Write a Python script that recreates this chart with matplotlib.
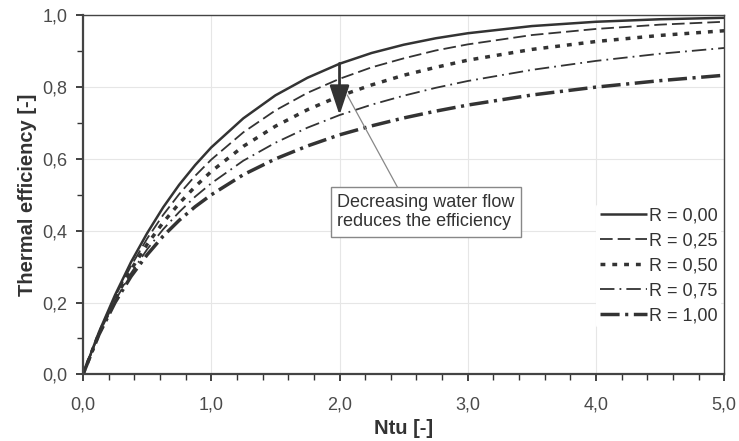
import matplotlib
matplotlib.use("Agg")
import matplotlib.pyplot as plt
from matplotlib.ticker import MultipleLocator, FuncFormatter

plt.rcParams['font.family'] = ['Liberation Sans', 'DejaVu Sans']

ntu = [0.0, 0.125, 0.25, 0.375, 0.5, 0.625, 0.75, 0.875, 1.0, 1.25, 1.5, 1.75, 2.0, 2.25, 2.5, 2.75,
       3.0, 3.5, 4.0, 4.5, 5.0]
eff_r000 = [0.0, 0.118, 0.221, 0.313, 0.393, 0.465, 0.528, 0.583, 0.632, 0.713, 0.777, 0.826, 0.865,
            0.895, 0.918, 0.936, 0.950, 0.970, 0.982, 0.989, 0.993]
eff_r025 = [0.0, 0.116, 0.216, 0.302, 0.378, 0.444, 0.502, 0.553, 0.598, 0.674, 0.735, 0.784, 0.823,
            0.855, 0.880, 0.902, 0.919, 0.945, 0.962, 0.974, 0.982]
eff_r050 = [0.0, 0.114, 0.210, 0.292, 0.362, 0.423, 0.476, 0.523, 0.565, 0.635, 0.691, 0.737, 0.775,
            0.806, 0.833, 0.855, 0.875, 0.905, 0.927, 0.944, 0.957]
eff_r075 = [0.0, 0.113, 0.205, 0.282, 0.348, 0.404, 0.452, 0.495, 0.532, 0.595, 0.645, 0.687, 0.722,
            0.751, 0.776, 0.798, 0.817, 0.848, 0.873, 0.893, 0.909]
eff_r100 = [0.0, 0.111, 0.200, 0.273, 0.333, 0.385, 0.429, 0.467, 0.500, 0.556, 0.600, 0.636, 0.667,
            0.692, 0.714, 0.733, 0.750, 0.778, 0.800, 0.818, 0.833]
labels = ['R = 0,00', 'R = 0,25', 'R = 0,50', 'R = 0,75', 'R = 1,00']
annot_text = 'Decreasing water flow\nreduces the efficiency'

C = '#333333'
fig = plt.figure(figsize=(7.39, 4.41), dpi=100)
ax = fig.add_axes([83/739, 1-374.3/441, (724.3-83)/739, (374.3-15.3)/441])

series = [eff_r000, eff_r025, eff_r050, eff_r075, eff_r100]
styles = [
    dict(lw=1.8, ls='-'),
    dict(lw=1.3, dashes=(7, 2.8)),
    dict(lw=2.5, dashes=(1.4, 2.0)),
    dict(lw=1.3, dashes=(8, 2.8, 1, 2.8)),
    dict(lw=2.5, dashes=(5.5, 1.6, 0.9, 1.6)),
]
for y, lab, st in zip(series, labels, styles):
    ax.plot(ntu, y, color=C, label=lab, solid_capstyle='butt', dash_capstyle='butt',
            solid_joinstyle='round', **st)

ax.set_xlim(0, 5)
ax.set_ylim(0, 1)
ax.xaxis.set_major_locator(MultipleLocator(1))
ax.xaxis.set_minor_locator(MultipleLocator(0.2))
ax.yaxis.set_major_locator(MultipleLocator(0.2))
ax.yaxis.set_minor_locator(MultipleLocator(0.1))
fmt = FuncFormatter(lambda v, p: f'{v:.1f}'.replace('.', ','))
ax.xaxis.set_major_formatter(fmt)
ax.yaxis.set_major_formatter(fmt)
ax.grid(True, which='major', color='#e6e6e6', lw=0.8)
ax.set_axisbelow(True)
for s in ax.spines.values():
    s.set_color('#444444')
    s.set_linewidth(1.0)
ax.spines['left'].set_linewidth(1.6)
ax.spines['bottom'].set_linewidth(1.6)
ax.tick_params(which='major', direction='out', length=5, width=1.3, color='#333333',
               labelsize=13, labelcolor='#4a4a4a')
ax.tick_params(which='minor', direction='out', length=4, width=1.0, color='#333333')
ax.tick_params(axis='x', which='major', pad=11)
ax.tick_params(axis='y', which='major', pad=6)
ax.set_xlabel('Ntu [-]', fontsize=14.5, fontweight='bold', color='#333333', labelpad=4)
ax.set_ylabel('Thermal efficiency [-]', fontsize=14.5, fontweight='bold', color='#333333', labelpad=4)

leg = ax.legend(loc='lower right', bbox_to_anchor=(0.995, 0.128), frameon=True, fontsize=13,
                handlelength=2.6, handletextpad=0.1, labelspacing=0.45, borderpad=0.2,
                borderaxespad=0.0)
leg.get_frame().set_edgecolor('none')
leg.get_frame().set_facecolor('white')
leg.get_frame().set_alpha(1)
for t in leg.get_texts():
    t.set_color('#333333')

# thick downward arrow
ax.annotate('', xy=(2.0, 0.722), xytext=(2.0, 0.866),
            arrowprops=dict(arrowstyle='-|>,head_width=0.3,head_length=0.9', mutation_scale=20,
                            color='#333333', lw=2, shrinkA=0, shrinkB=0))

# callout box
ax.annotate(annot_text, xy=(2.06, 0.778), xytext=(2.673, 0.452), textcoords='data',
            fontsize=13, color='#333333', ha='center', va='center', multialignment='left',
            bbox=dict(boxstyle='square,pad=0.35', fc='white', ec='#888888', lw=1),
            arrowprops=dict(arrowstyle='-', color='#888888', lw=0.9, relpos=(0.36, 1.0),
                            shrinkA=0, shrinkB=0))

fig.savefig('out.png', dpi=100)
